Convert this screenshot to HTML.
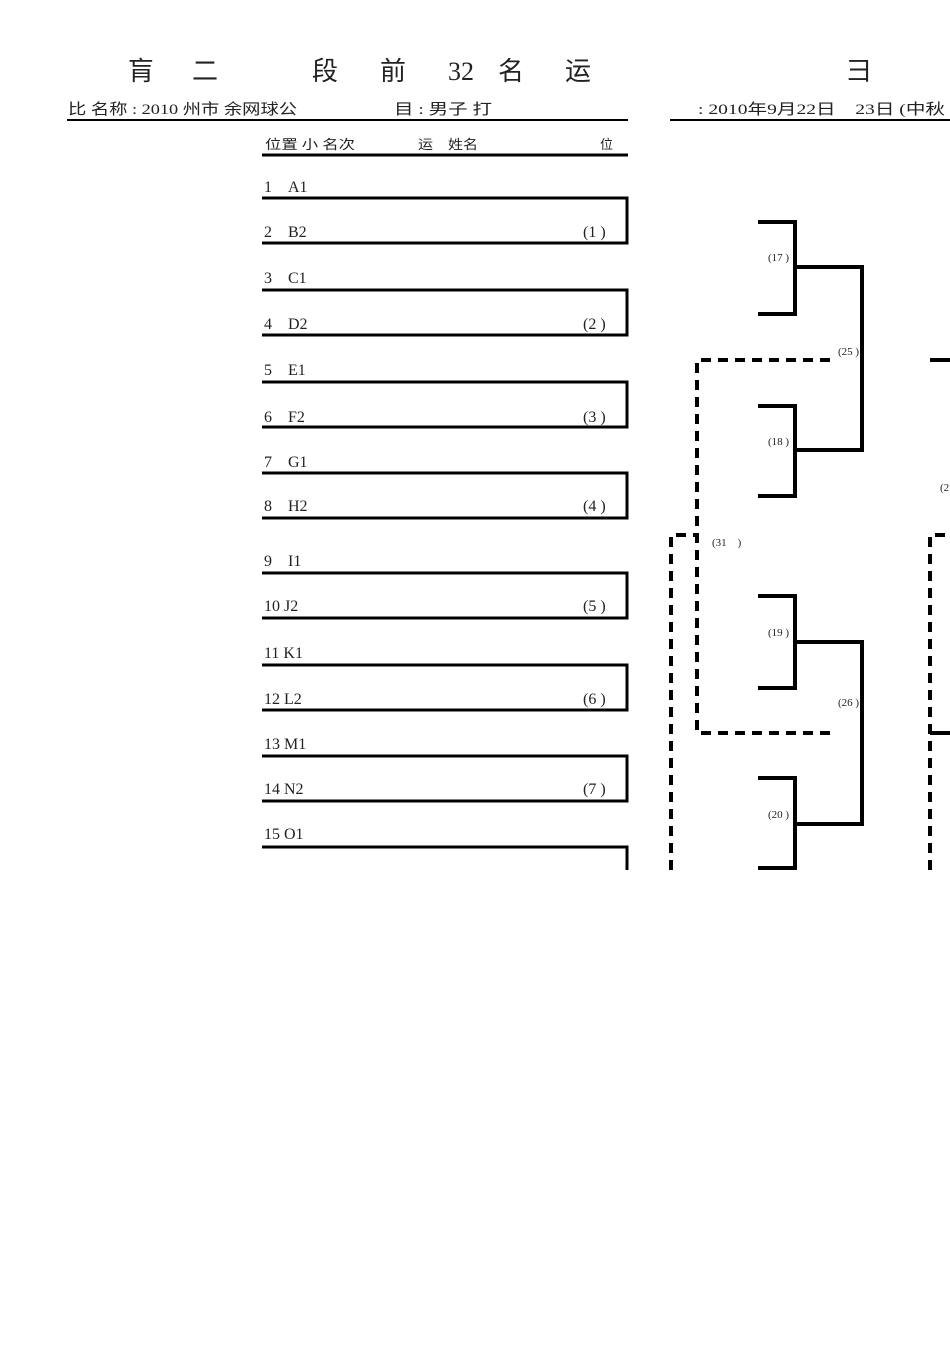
<!DOCTYPE html>
<html><head><meta charset="utf-8"><style>
html,body{margin:0;padding:0;background:#fff;}
svg{display:block;}
text{font-family:"Liberation Serif","Noto Serif CJK SC",serif;fill:#222;}
.c{font-family:"Liberation Serif","Noto Sans CJK SC",sans-serif;}
</style></head><body>
<svg width="950" height="1345" viewBox="0 0 950 1345" xmlns="http://www.w3.org/2000/svg">
<g class="c" font-size="26">
<text x="128" y="80" class="c">肓</text>
<text x="192" y="80" class="c">二</text>
<text x="312" y="80" class="c">段</text>
<text x="380" y="80" class="c">前</text>
<text x="448" y="80">32</text>
<text x="498" y="80" class="c">名</text>
<text x="565" y="80" class="c">运</text>
<text x="846" y="80" class="c">彐</text>
</g>
<g font-size="15">
<text x="68" y="114" class="c" textLength="229" lengthAdjust="spacingAndGlyphs">比 名称 : 2010 州市 余网球公</text>
<text x="394" y="114" class="c" textLength="98" lengthAdjust="spacingAndGlyphs">目 : 男子 打</text>
<text x="698" y="114" class="c" textLength="247" lengthAdjust="spacingAndGlyphs">: 2010年9月22日　23日 (中秋</text>
</g>
<line x1="67" y1="120" x2="628" y2="120" stroke="#000" stroke-width="2"/>
<line x1="670" y1="120" x2="950" y2="120" stroke="#000" stroke-width="2"/>
<g font-size="13">
<text x="265" y="149" class="c" textLength="90" lengthAdjust="spacingAndGlyphs">位置 小 名次</text>
<text x="418" y="149" class="c" textLength="60" lengthAdjust="spacingAndGlyphs">运　姓名</text>
<text x="600" y="149" class="c">位</text>
</g>
<line x1="262" y1="155" x2="628" y2="155" stroke="#000" stroke-width="3"/>
<g font-size="16">
<text x="264" y="192">1　A1</text>
<text x="264" y="237">2　B2</text>
<text x="264" y="283">3　C1</text>
<text x="264" y="329">4　D2</text>
<text x="264" y="375">5　E1</text>
<text x="264" y="422">6　F2</text>
<text x="264" y="467">7　G1</text>
<text x="264" y="511">8　H2</text>
<text x="264" y="566">9　I1</text>
<text x="264" y="611">10 J2</text>
<text x="264" y="658">11 K1</text>
<text x="264" y="704">12 L2</text>
<text x="264" y="749">13 M1</text>
<text x="264" y="794">14 N2</text>
<text x="264" y="839">15 O1</text>
<text x="583" y="237">(1 )</text>
<text x="583" y="329">(2 )</text>
<text x="583" y="422">(3 )</text>
<text x="583" y="511">(4 )</text>
<text x="583" y="611">(5 )</text>
<text x="583" y="704">(6 )</text>
<text x="583" y="794">(7 )</text>
</g>
<g stroke="#000" stroke-width="3" fill="none">
<path d="M262 198H627V243H262"/>
<path d="M262 290H627V335H262"/>
<path d="M262 382H627V427H262"/>
<path d="M262 473H627V518H262"/>
<path d="M262 573H627V618H262"/>
<path d="M262 665H627V710H262"/>
<path d="M262 756H627V801H262"/>
<path d="M262 847H627V870"/>
</g>
<g stroke="#000" stroke-width="4" fill="none">
<path d="M758 222H795V314H758"/>
<path d="M758 406H795V496H758"/>
<path d="M795 267H862V450H795"/>
<path d="M758 596H795V688H758"/>
<path d="M758 778H795V868H758"/>
<path d="M795 642H862V824H795"/>
<path d="M930 360H950"/>
</g>
<g stroke="#000" stroke-width="4" fill="none" stroke-dasharray="10,7">
<path d="M830 360H697V733H830"/>
<path d="M671 870V535H697"/>
<path d="M930 870V535H950"/>
<path d="M930 733H950" stroke-dasharray="none"/>
</g>
<g font-size="11" fill="#555">
<text x="768" y="261">(17 )</text>
<text x="768" y="445">(18 )</text>
<text x="838" y="355">(25 )</text>
<text x="712" y="546">(31　)</text>
<text x="768" y="636">(19 )</text>
<text x="838" y="706">(26 )</text>
<text x="768" y="818">(20 )</text>
<text x="940" y="491">(2</text>
</g>
</svg>
</body></html>
